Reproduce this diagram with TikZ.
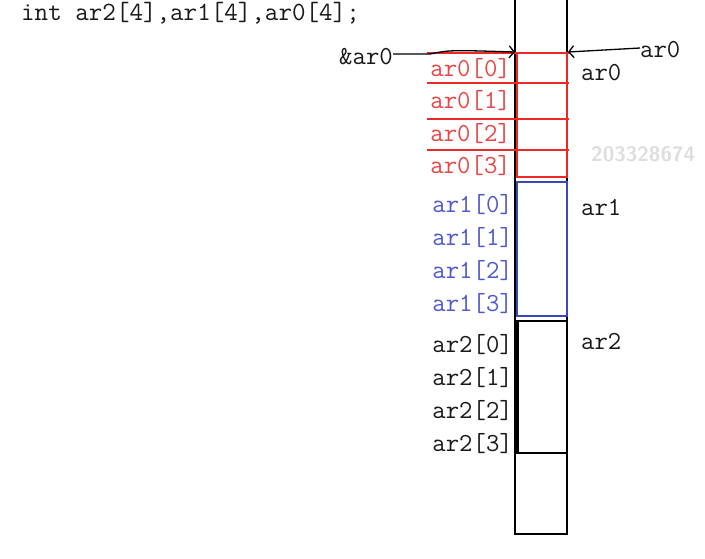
\documentclass[tikz,border=0pt]{standalone}
\usetikzlibrary{arrows.meta}
\definecolor{rbox}{RGB}{238,40,36}
\definecolor{rtxt}{RGB}{232,70,70}
\definecolor{bbox}{RGB}{60,70,190}
\definecolor{btxt}{RGB}{80,90,200}
\definecolor{ktxt}{RGB}{25,25,25}
\definecolor{wm}{RGB}{222,222,222}
\tikzset{
  lbl/.style={inner sep=0pt, font=\fontsize{26}{28}\selectfont\ttfamily},
  redl/.style={lbl, text=rtxt, anchor=base east},
  bluel/.style={lbl, text=btxt, anchor=base east},
  blackl/.style={lbl, text=ktxt, anchor=base east},
  rightl/.style={lbl, text=ktxt, anchor=base west},
  ptr/.style={draw=black, line width=1.3pt, -{Straight Barb[length=5pt,width=12pt]}},
}
\begin{document}
\begin{tikzpicture}[x=1pt,y=-1pt]
\useasboundingbox (0,0) rectangle (705,558);
% code line
\node[lbl, text=ktxt, anchor=base west, font=\fontsize{26.3}{28}\selectfont\ttfamily] (code) at (21,20) {int ar2[4],ar1[4],ar0[4];};
% watermark
\node[inner sep=0pt, anchor=base west, text=wm, font=\fontsize{21}{23}\selectfont\sffamily\bfseries] (wm) at (591,161) {203328674};
% outer column
\draw[line width=2pt] (515,-5) -- (515,534) -- (567,534) -- (567,-5);
% ar2 box
\draw[line width=2pt] (517,321) rectangle (567,453);
\draw[line width=3pt] (517,321) -- (517,453);
% ar1 box
\draw[bbox, line width=1.6pt] (517,182) rectangle (567,316);
% ar0 box
\draw[rbox, line width=2.2pt] (517,53) rectangle (567,177);
\foreach \yy in {53,83,119,150}{
  \draw[rbox, line width=2pt] (427,\yy) -- (569,\yy);
}
% left labels
\node[redl] (a00) at (511,76) {ar0[0]};
\node[redl] (a01) at (511,108) {ar0[1]};
\node[redl] (a02) at (511,141) {ar0[2]};
\node[redl] (a03) at (511,173) {ar0[3]};
\node[bluel] (a10) at (513,212) {ar1[0]};
\node[bluel] (a11) at (513,245) {ar1[1]};
\node[bluel] (a12) at (513,278) {ar1[2]};
\node[bluel] (a13) at (513,311) {ar1[3]};
\node[blackl] (a20) at (513,352) {ar2[0]};
\node[blackl] (a21) at (513,385) {ar2[1]};
\node[blackl] (a22) at (513,418) {ar2[2]};
\node[blackl] (a23) at (513,451) {ar2[3]};
% right labels
\node[rightl] (r0) at (581,80) {ar0};
\node[rightl] (r1) at (581,215) {ar1};
\node[rightl] (r2) at (581,349) {ar2};
% pointers
\node[lbl, text=ktxt, anchor=base east] (amp) at (393,64) {\&ar0};
\node[rightl] (top) at (640,57) {ar0};
\coordinate (pl) at (515,52);
\coordinate (pr) at (568,52);
\draw[ptr] (amp.east |- 0,54) -- (430,54) .. controls (450,50) .. (pl);
\draw[ptr] (top.west |- 0,48) -- (pr);
\end{tikzpicture}
\end{document}
